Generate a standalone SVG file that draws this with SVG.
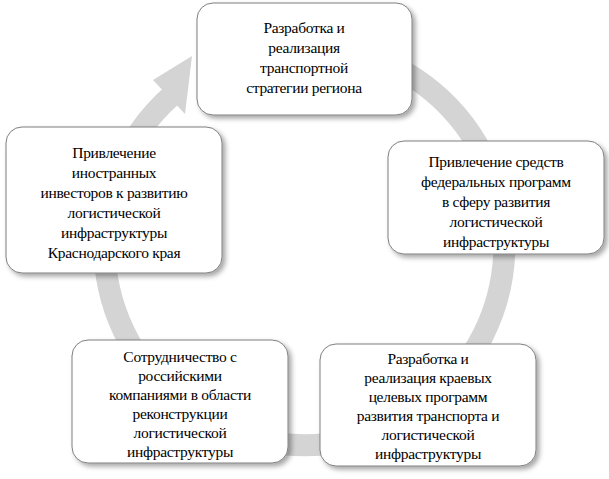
<svg xmlns="http://www.w3.org/2000/svg" width="609" height="479" viewBox="0 0 609 479">
<style>
.b{fill:#fff;stroke:#7f7f7f;stroke-width:1;filter:url(#sh)}
text{font-family:"Liberation Serif","Times New Roman","DejaVu Serif",serif;font-size:15.5px;fill:#000;text-anchor:middle;letter-spacing:-0.3px}
</style>
<defs><filter id="sh" x="-10%" y="-10%" width="125%" height="130%"><feDropShadow dx="3" dy="3" stdDeviation="2.5" flood-color="#000" flood-opacity="0.35"/></filter></defs>
<rect width="609" height="479" fill="#fff"/>
<g id="connectors">
<path d="M360,53 A200,200 0 1 1 170,97" fill="none" stroke="#d4d4d4" stroke-width="22"/>
<polygon points="185,114 153,80 192,56" fill="#d4d4d4"/>
</g>
<g id="n1"><rect class="b" x="197" y="3" width="215" height="112" rx="16"/>
<text x="304" y="33">Разработка и</text><text x="304" y="53">реализация</text><text x="304" y="73">транспортной</text><text x="304" y="93">стратегии региона</text></g>
<g id="n2"><rect class="b" x="388" y="141" width="216" height="113" rx="16"/>
<text x="496" y="167">Привлечение средств</text><text x="496" y="187">федеральных программ</text><text x="496" y="207">в сферу развития</text><text x="496" y="227">логистической</text><text x="496" y="247">инфраструктуры</text></g>
<g id="n3"><rect class="b" x="320" y="344" width="216" height="122" rx="16"/>
<text x="428" y="364">Разработка и</text><text x="428" y="383">реализация краевых</text><text x="428" y="402">целевых программ</text><text x="428" y="421">развития транспорта и</text><text x="428" y="440">логистической</text><text x="428" y="459">инфраструктуры</text></g>
<g id="n4"><rect class="b" x="72" y="340" width="216" height="123" rx="16"/>
<text x="180" y="362">Сотрудничество с</text><text x="180" y="381">российскими</text><text x="180" y="400">компаниями в области</text><text x="180" y="419">реконструкции</text><text x="180" y="438">логистической</text><text x="180" y="457">инфраструктуры</text></g>
<g id="n5"><rect class="b" x="6" y="127" width="216" height="146" rx="16"/>
<text x="114" y="158">Привлечение</text><text x="114" y="178">иностранных</text><text x="114" y="198">инвесторов к развитию</text><text x="114" y="218">логистической</text><text x="114" y="238">инфраструктуры</text><text x="114" y="258">Краснодарского края</text></g>
</svg>
